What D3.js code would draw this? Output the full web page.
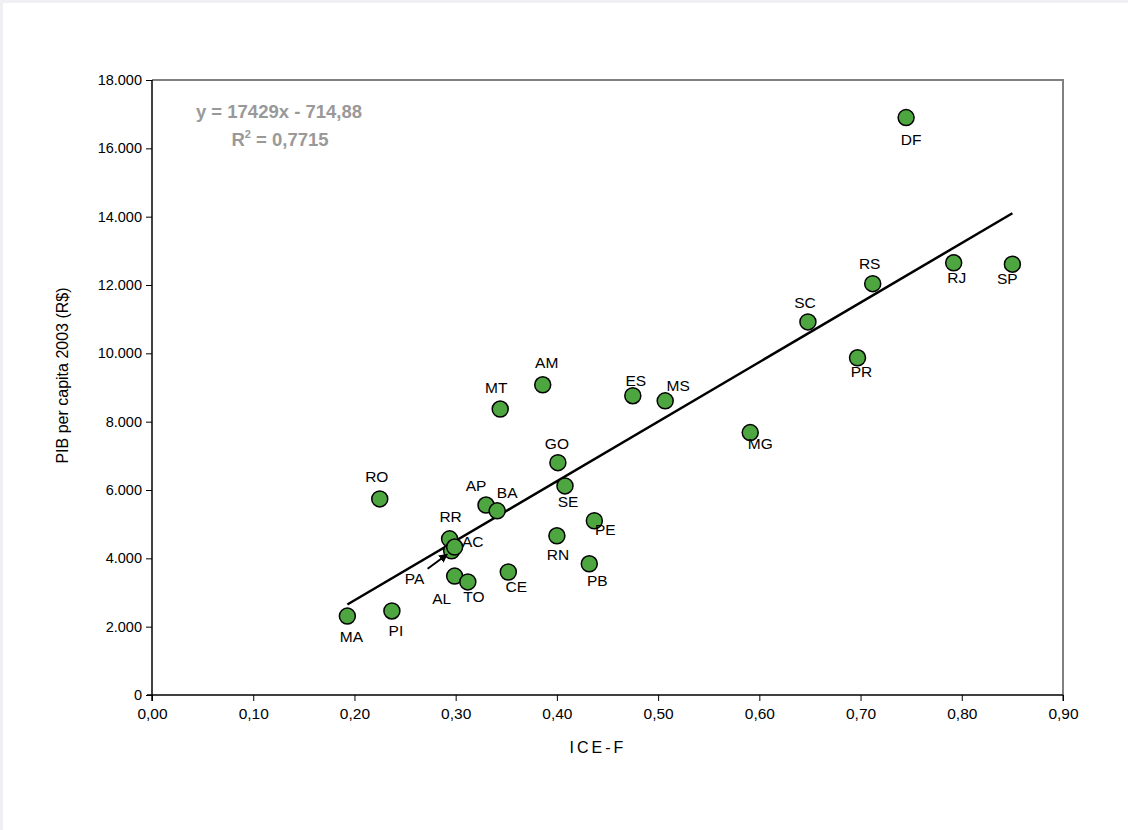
<!DOCTYPE html>
<html>
<head>
<meta charset="utf-8">
<script src="https://cdn.jsdelivr.net/npm/d3@7"></script>
<style>
  html, body { margin: 0; padding: 0; background: #f0eff4; }
  #card { position: absolute; left: 3px; top: 3px; width: 1125px; height: 827px; background: #fff; }
  svg { position: absolute; left: -3px; top: -3px; }
  text { font-family: 'Liberation Sans', Arial, sans-serif; }
</style>
</head>
<body>
<div id="card"></div>
<script>
// Estados (UF) e valores
const states = ['MA', 'PI', 'RO', 'PA', 'RR', 'AC', 'AL', 'TO', 'AP', 'BA', 'CE', 'MT', 'AM', 'GO', 'SE', 'RN', 'PB', 'PE', 'ES', 'MS', 'MG', 'SC', 'PR', 'RS', 'RJ', 'SP', 'DF']
const iceF = [0.193, 0.237, 0.225, 0.296, 0.294, 0.299, 0.299, 0.312, 0.330, 0.341, 0.352, 0.344, 0.386, 0.401, 0.408, 0.400, 0.432, 0.437, 0.475, 0.507, 0.591, 0.648, 0.697, 0.712, 0.792, 0.850, 0.745]
const pib = [2310, 2460, 5740, 4220, 4570, 4330, 3480, 3310, 5560, 5390, 3600, 8370, 9080, 6800, 6120, 4660, 3840, 5100, 8760, 8610, 7680, 10920, 9870, 12040, 12650, 12610, 16900]

const xTicks = [0, 0.1, 0.2, 0.3, 0.4, 0.5, 0.6, 0.7, 0.8, 0.9]
const yTicks = [0, 2000, 4000, 6000, 8000, 10000, 12000, 14000, 16000, 18000]

// regressão linear do gráfico original
const slope = 17429
const intercept = -714.88

// posição dos rótulos em relação ao ponto
const labelOffset = {
  MA: [4, 20], PI: [4, 20], RO: [-3, -22], RR: [1, -22], AC: [18, -6], AL: [-13, 22],
  TO: [6, 15], AP: [-10, -20], BA: [10, -18], CE: [8, 14], MT: [-4, -22], AM: [4, -22],
  GO: [-1, -19], SE: [3, 16], RN: [1, 19], PB: [8, 17], PE: [11, 9], ES: [3, -15],
  MS: [13, -15], MG: [10, 11], SC: [-3, -19], PR: [4, 14], RS: [-3, -20], RJ: [3, 15],
  SP: [-5, 14], DF: [5, 22], PA: [-37, 28]
}

const width = 1128
const height = 830
const margin = { top: 80, bottom: 135, left: 152, right: 65 }

const pt = d3.formatLocale({ decimal: ',', thousands: '.', grouping: [3], currency: ['R$', ''] })

const svg = d3.select('#card')
  .append('svg')
  .attr('width', width)
  .attr('height', height)

const x = d3.scaleLinear()
  .domain([0, 0.9])
  .range([margin.left, width - margin.right])

const y = d3.scaleLinear()
  .domain([0, 18000])
  .range([height - margin.bottom, margin.top])

// moldura (topo e direita em cinza)
svg.append('path')
  .attr('d', `M${x(0)},${y(18000)}H${x(0.9)}V${y(0) + 6}`)
  .attr('fill', 'none')
  .attr('stroke', '#808080')
  .attr('stroke-width', 2)

const xAxis = (g) => {
  g.attr('transform', `translate(0,${y(0)})`)
    .call(d3.axisBottom(x).tickValues(xTicks).tickFormat(pt.format('.2f')).tickSize(6).tickSizeOuter(0))
    .attr('font-size', '15.5px')
    .attr('font-family', "'Liberation Sans', Arial, sans-serif")
  g.select('.domain').attr('stroke', '#000').attr('stroke-width', 1.5).attr('d', `M${x(0) - 5},0H${x(0.9)}`)
  g.selectAll('.tick line').attr('stroke', '#000')
  g.selectAll('.tick text').attr('fill', '#000').attr('dy', '0.95em')
}

const yAxis = (g) => {
  g.attr('transform', `translate(${x(0)},0)`)
    .call(d3.axisLeft(y).tickValues(yTicks).tickFormat(pt.format(',')).tickSize(6).tickSizeOuter(0))
    .attr('font-size', '14.5px')
    .attr('font-family', "'Liberation Sans', Arial, sans-serif")
  g.select('.domain').attr('stroke', '#000').attr('stroke-width', 1.5).attr('d', `M0,${y(18000)}V${y(0) + 6}`)
  g.selectAll('.tick line').attr('stroke', '#000')
  g.selectAll('.tick text').attr('fill', '#000').attr('x', -10)
}

svg.append('g').call(xAxis)
svg.append('g').call(yAxis)

// títulos dos eixos
svg.append('text')
  .attr('x', 598)
  .attr('y', 753)
  .attr('text-anchor', 'middle')
  .style('font-size', '16px')
  .style('letter-spacing', '3px')
  .text('ICE-F')

svg.append('text')
  .attr('text-anchor', 'middle')
  .attr('transform', `translate(68, ${(y(0) + y(18000)) / 2 - 12}) rotate(-90)`)
  .style('font-size', '16px')
  .text('PIB per capita 2003 (R$)')

// linha de tendência
const xMin = d3.min(iceF)
const xMax = d3.max(iceF)
svg.append('line')
  .attr('x1', x(xMin))
  .attr('y1', y(slope * xMin + intercept))
  .attr('x2', x(xMax))
  .attr('y2', y(slope * xMax + intercept))
  .attr('stroke', '#000')
  .attr('stroke-width', 2.5)

// equação
svg.append('text')
  .attr('x', 279)
  .attr('y', 118)
  .attr('text-anchor', 'middle')
  .style('font-size', '18.5px')
  .style('font-weight', 'bold')
  .style('fill', '#999')
  .text('y = 17429x - 714,88')

const r2 = svg.append('text')
  .attr('x', 280)
  .attr('y', 146)
  .attr('text-anchor', 'middle')
  .style('font-size', '18.5px')
  .style('font-weight', 'bold')
  .style('fill', '#999')
r2.append('tspan').text('R')
r2.append('tspan').attr('dy', -8).style('font-size', '11px').text('2')
r2.append('tspan').attr('dy', 8).text(' = 0,7715')

const data = states.map((s, i) => ({ uf: s, x: iceF[i], y: pib[i] }))

// pontos
svg.append('g')
  .selectAll('circle')
  .data(data)
  .join('circle')
  .attr('cx', d => x(d.x))
  .attr('cy', d => y(d.y))
  .attr('r', 8)
  .attr('fill', '#4ea640')
  .attr('stroke', '#000')
  .attr('stroke-width', 1.5)

// rótulos
svg.append('g')
  .selectAll('text')
  .data(data)
  .join('text')
  .attr('x', d => x(d.x) + labelOffset[d.uf][0])
  .attr('y', d => y(d.y) + labelOffset[d.uf][1] + 5.5)
  .attr('text-anchor', 'middle')
  .style('font-size', '15.5px')
  .style('fill', '#000')
  .text(d => d.uf)

// seta do PA
const pa = data.find(d => d.uf === 'PA')
svg.append('defs').append('marker')
  .attr('id', 'arrow')
  .attr('viewBox', '0 0 10 10')
  .attr('refX', 8)
  .attr('refY', 5)
  .attr('markerWidth', 4.5)
  .attr('markerHeight', 4.5)
  .attr('orient', 'auto')
  .append('path')
  .attr('d', 'M0,0L10,5L0,10Z')
  .attr('fill', '#000')

svg.append('line')
  .attr('x1', x(pa.x) - 24)
  .attr('y1', y(pa.y) + 18)
  .attr('x2', x(pa.x) - 5)
  .attr('y2', y(pa.y) + 4)
  .attr('stroke', '#000')
  .attr('stroke-width', 2)
  .attr('marker-end', 'url(#arrow)')
</script>
</body>
</html>
